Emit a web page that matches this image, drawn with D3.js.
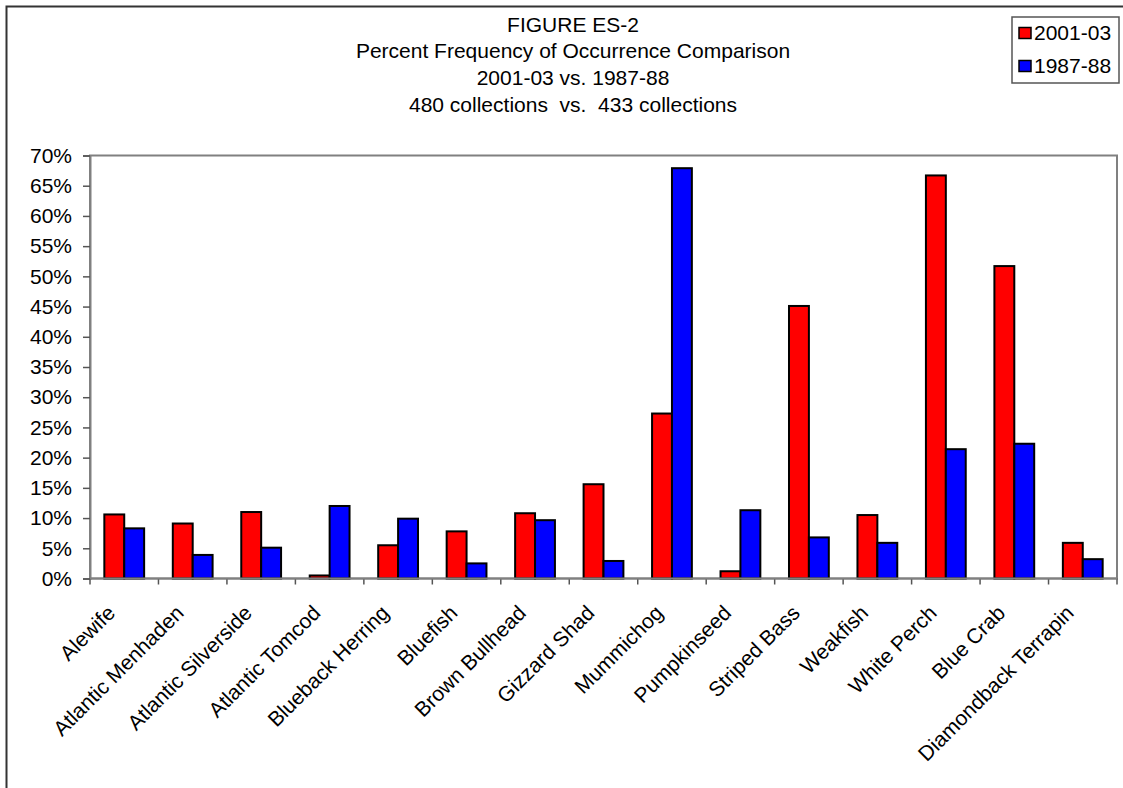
<!DOCTYPE html>
<html>
<head>
<meta charset="utf-8">
<script src="https://cdn.jsdelivr.net/npm/d3@7"></script>
<style>
    body { margin: 0; background: #fff; }
    svg { display: block; font-family: "Liberation Sans", Arial, sans-serif; }
</style>
</head>
<body>
<svg width="1123" height="788"></svg>
<script>
// species on the x axis
var species = [
    "Alewife", "Atlantic Menhaden", "Atlantic Silverside", "Atlantic Tomcod",
    "Blueback Herring", "Bluefish", "Brown Bullhead", "Gizzard Shad",
    "Mummichog", "Pumpkinseed", "Striped Bass", "Weakfish", "White Perch",
    "Blue Crab", "Diamondback Terrapin"
];
var seriesNames = ["2001-03", "1987-88"];
var seriesColors = ["#ff0000", "#0000ff"];
// percent frequency of occurrence
var values2001 = [10.6, 9.1, 11.0, 0.5, 5.5, 7.8, 10.8, 15.6, 27.3, 1.2, 45.1, 10.5, 66.7, 51.7, 5.9];
var values1987 = [8.3, 3.9, 5.1, 12.0, 9.9, 2.5, 9.65, 2.9, 67.9, 11.3, 6.8, 5.9, 21.4, 22.3, 3.2];
var yTicks = [0, 5, 10, 15, 20, 25, 30, 35, 40, 45, 50, 55, 60, 65, 70];
var titleLines = [
    "FIGURE ES-2",
    "Percent Frequency of Occurrence Comparison",
    "2001-03 vs. 1987-88",
    "480 collections  vs.  433 collections"
];

window.onload = main;

function main() {
    var svg = d3.select("svg");
    var plot = { left: 90, right: 1117, top: 155.5, bottom: 578.5 };

    // outer frame (only top and left edges fall inside the picture)
    svg.append("path")
        .attr("d", "M6.5,788V6.5H1123")
        .attr("fill", "none")
        .attr("stroke", "#333")
        .attr("stroke-width", 2);

    var x0 = d3.scaleBand().domain(species).range([plot.left, plot.right]);
    var x1 = d3.scaleBand().domain(seriesNames)
        .range([0, x0.bandwidth()])
        .paddingOuter(0.72);
    var y = d3.scaleLinear().domain([0, 70]).range([plot.bottom, plot.top]);

    // plot area border
    svg.append("rect")
        .attr("x", plot.left)
        .attr("y", plot.top)
        .attr("width", plot.right - plot.left)
        .attr("height", plot.bottom - plot.top)
        .attr("fill", "none")
        .attr("stroke", "#808080")
        .attr("stroke-width", 2);

    var rows = species.map((s, i) => ({ name: s, vals: [values2001[i], values1987[i]] }));

    var groups = svg.selectAll("g.grp")
        .data(rows)
        .enter()
        .append("g")
        .attr("class", "grp")
        .attr("transform", (d) => "translate(" + x0(d.name) + ",0)");

    groups.selectAll("rect")
        .data((d) => d.vals.map((v, k) => ({ key: seriesNames[k], v: v, k: k })))
        .enter()
        .append("rect")
        .attr("x", (d) => x1(d.key))
        .attr("y", (d) => y(d.v))
        .attr("width", x1.bandwidth())
        .attr("height", (d) => y(0) - y(d.v))
        .attr("fill", (d) => seriesColors[d.k])
        .attr("stroke", "#000")
        .attr("stroke-width", 2);

    // y axis
    var yAxis = d3.axisLeft(y)
        .tickValues(yTicks)
        .tickFormat((d) => d + "%")
        .tickSize(7)
        .tickPadding(11);
    var gy = svg.append("g")
        .attr("transform", "translate(" + plot.left + ",0)")
        .call(yAxis);
    gy.select(".domain").attr("stroke", "#808080").attr("stroke-width", 2);
    gy.selectAll(".tick line").attr("stroke", "#555").attr("stroke-width", 1.5);
    gy.selectAll(".tick text")
        .attr("font-size", "21px")
        .attr("fill", "#000")
        .style("font-family", "Liberation Sans, Arial, sans-serif");

    // x axis: tick marks sit on the category boundaries
    var bounds = species.map((s) => x0(s)).concat([plot.right]);
    svg.append("g")
        .selectAll("line")
        .data(bounds)
        .enter()
        .append("line")
        .attr("x1", (d) => d)
        .attr("x2", (d) => d)
        .attr("y1", plot.bottom)
        .attr("y2", plot.bottom + 6)
        .attr("stroke", "#555")
        .attr("stroke-width", 1.5);
    svg.append("line")
        .attr("x1", plot.left)
        .attr("x2", plot.right)
        .attr("y1", plot.bottom)
        .attr("y2", plot.bottom)
        .attr("stroke", "#808080")
        .attr("stroke-width", 2);

    svg.append("g")
        .selectAll("text")
        .data(species)
        .enter()
        .append("text")
        .attr("transform", (d) =>
            "translate(" + (x0(d) + x0.bandwidth() / 2 - 13) + "," + 609 + ") rotate(-45)")
        .attr("text-anchor", "end")
        .attr("dy", "0.35em")
        .attr("font-size", "21px")
        .text((d) => d);

    // title
    svg.append("g")
        .selectAll("text")
        .data(titleLines)
        .enter()
        .append("text")
        .attr("x", 573)
        .attr("y", (d, i) => 31.5 + i * 26.8)
        .attr("text-anchor", "middle")
        .attr("font-size", "21px")
        .style("white-space", "pre")
        .text((d) => d);

    // legend
    var legend = svg.append("g");
    legend.append("rect")
        .attr("x", 1012)
        .attr("y", 17)
        .attr("width", 107)
        .attr("height", 66)
        .attr("fill", "#fff")
        .attr("stroke", "#555")
        .attr("stroke-width", 1.5);
    var items = legend.selectAll("g.item")
        .data(seriesNames)
        .enter()
        .append("g")
        .attr("class", "item")
        .attr("transform", (d, i) => "translate(1019," + (27.5 + i * 33) + ")");
    items.append("rect")
        .attr("width", 12)
        .attr("height", 11)
        .attr("fill", (d, i) => seriesColors[i])
        .attr("stroke", "#000")
        .attr("stroke-width", 1.5);
    items.append("text")
        .attr("x", 15)
        .attr("y", 12)
        .attr("font-size", "21px")
        .text((d) => d);
}
</script>
</body>
</html>
